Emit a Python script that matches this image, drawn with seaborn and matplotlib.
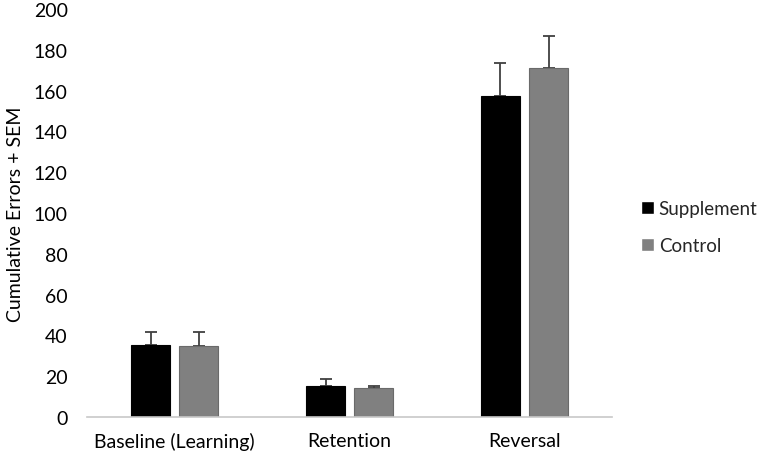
import matplotlib
matplotlib.use("Agg")
import matplotlib.pyplot as plt
import seaborn as sns
import pandas as pd
import numpy as np

categories = ["Baseline (Learning)", "Retention", "Reversal"]
groups = ["Supplement", "Control"]
supplement_means = [35.3, 15.0, 157.5]
supplement_sem = [6.2, 3.8, 16.2]
control_means = [35.0, 14.4, 171.0]
control_sem = [6.5, 1.0, 15.8]

rows = []
for i, c in enumerate(categories):
    rows.append({"Phase": c, "Group": "Supplement", "Errors": supplement_means[i], "SEM": supplement_sem[i]})
    rows.append({"Phase": c, "Group": "Control", "Errors": control_means[i], "SEM": control_sem[i]})
df = pd.DataFrame(rows)

sns.set_theme(style="white")
plt.rcParams["font.family"] = ["Lato", "DejaVu Sans"]

fig = plt.figure(figsize=(7.65, 4.56), dpi=100)
ax = fig.add_axes([0.114, 0.0833, 0.686, 0.895])

palette = {"Supplement": "#000000", "Control": "#808080"}
sns.barplot(data=df, x="Phase", y="Errors", hue="Group", hue_order=groups,
            order=categories, palette=palette, width=0.55, gap=0.2,
            errorbar=None, ax=ax, saturation=1, zorder=2)

# style bars and add upward SEM error bars
for container, grp in zip(ax.containers, groups):
    sems = supplement_sem if grp == "Supplement" else control_sem
    for bar, s in zip(container, sems):
        bar.set_edgecolor("#000000" if grp == "Supplement" else "#6a6a6a")
        bar.set_linewidth(0.8)
        bar.set_zorder(2)
        xc = bar.get_x() + bar.get_width() / 2
        h = bar.get_height()
        ax.errorbar(xc, h, yerr=[[0], [s]], fmt="none", ecolor="#404040",
                    elinewidth=1.3, capsize=4, capthick=1.3, zorder=1)

ax.set_ylim(0, 200)
ax.set_yticks(np.arange(0, 201, 20))
ax.set_xlim(-0.5, 2.5)
ax.set_xlabel("")
ax.set_ylabel("Cumulative Errors + SEM", fontsize=14, color="#000000", labelpad=7)
ax.tick_params(axis="y", labelsize=14, colors="#000000", length=0, pad=14)
ax.tick_params(axis="x", labelsize=14, colors="#000000", length=0, pad=11)
for side in ["left", "right", "top"]:
    ax.spines[side].set_visible(False)
ax.spines["bottom"].set_color("#c8c8c8")
ax.spines["bottom"].set_linewidth(1.2)

leg = ax.legend(loc="center left", bbox_to_anchor=(1.03, 0.465), frameon=False,
                fontsize=13.5, handlelength=0.7, handleheight=0.7,
                handletextpad=0.25, labelspacing=1.05, borderaxespad=0.3)

fig.savefig("out.png", dpi=100)
